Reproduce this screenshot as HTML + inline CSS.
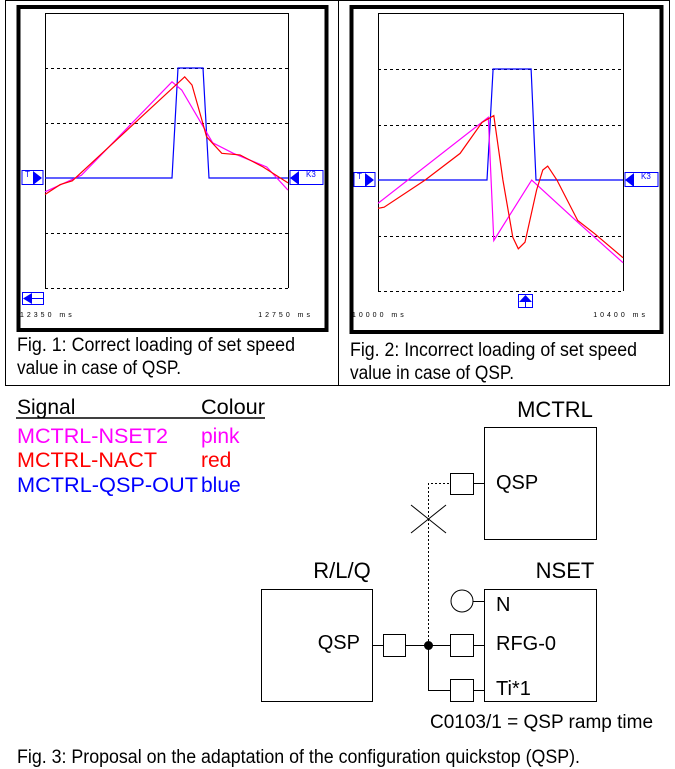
<!DOCTYPE html>
<html><head><meta charset="utf-8"><style>
html,body{margin:0;padding:0;background:#fff;}
svg{display:block;font-family:"Liberation Sans",Arial,sans-serif;}
</style></head><body>
<svg id="s" width="675" height="769" viewBox="0 0 675 769" xmlns="http://www.w3.org/2000/svg">
<g fill="none" stroke="#000" stroke-width="1">
<line x1="5" y1="0.5" x2="670" y2="0.5"/>
<line x1="5.5" y1="0" x2="5.5" y2="385"/>
<line x1="338.5" y1="0" x2="338.5" y2="385"/>
<line x1="669.5" y1="0" x2="669.5" y2="385"/>
<line x1="5" y1="385.5" x2="670" y2="385.5"/>
</g>
<g id="f1"></g>
<g id="f2"></g>
<g font-size="19" fill="#000">
<text x="17" y="351" textLength="278" lengthAdjust="spacingAndGlyphs">Fig. 1: Correct loading of set speed</text>
<text x="17" y="374" textLength="164" lengthAdjust="spacingAndGlyphs">value in case of QSP.</text>
<text x="350" y="356" textLength="287" lengthAdjust="spacingAndGlyphs">Fig. 2: Incorrect loading of set speed</text>
<text x="350" y="379" textLength="164" lengthAdjust="spacingAndGlyphs">value in case of QSP.</text>
</g>
<g font-size="21">
<text x="17" y="414" fill="#000">Signal</text>
<text x="201" y="414" fill="#000" textLength="64" lengthAdjust="spacingAndGlyphs">Colour</text>
<line x1="16" y1="418" x2="265" y2="418" stroke="#000" stroke-width="1.5"/>
<text x="17" y="443" fill="#ff00ff" textLength="151" lengthAdjust="spacingAndGlyphs">MCTRL-NSET2</text>
<text x="201" y="443" fill="#ff00ff">pink</text>
<text x="17" y="467" fill="#ff0000" textLength="140" lengthAdjust="spacingAndGlyphs">MCTRL-NACT</text>
<text x="201" y="467" fill="#ff0000">red</text>
<text x="17" y="492" fill="#0000ff" textLength="181" lengthAdjust="spacingAndGlyphs">MCTRL-QSP-OUT</text>
<text x="201" y="492" fill="#0000ff">blue</text>
</g>
<g fill="none" stroke="#000" stroke-width="1">
<rect x="484.5" y="427.5" width="112" height="112"/>
<rect x="261.5" y="589.5" width="111" height="112"/>
<rect x="484.5" y="589.5" width="112" height="112"/>
<rect x="450.5" y="473.5" width="23" height="21"/>
<rect x="383.5" y="634.5" width="22" height="22"/>
<rect x="450.5" y="634.5" width="23" height="22"/>
<rect x="450.5" y="679.5" width="23" height="22"/>
<circle cx="462" cy="601" r="11"/>
<line x1="473" y1="483.5" x2="484" y2="483.5"/>
<line x1="372" y1="645.5" x2="383" y2="645.5"/>
<line x1="406" y1="645.5" x2="450" y2="645.5"/>
<line x1="473" y1="645.5" x2="484" y2="645.5"/>
<line x1="473" y1="690.5" x2="484" y2="690.5"/>
<line x1="473" y1="601.5" x2="484" y2="601.5"/>
<polyline points="428.5,645 428.5,690.5 450,690.5"/>
<polyline points="428.5,645 428.5,483.5 450,483.5" stroke-dasharray="2,2"/>
<line x1="411" y1="505" x2="446" y2="533"/>
<line x1="446" y1="505" x2="411" y2="533"/>
<circle cx="428.5" cy="645.5" r="4" fill="#000"/>
</g>
<g font-size="20" fill="#000">
<text x="555" y="417" text-anchor="middle" font-size="22">MCTRL</text>
<text x="342" y="578" text-anchor="middle" font-size="22">R/L/Q</text>
<text x="565" y="578" text-anchor="middle" font-size="22">NSET</text>
<text x="496" y="489">QSP</text>
<text x="360" y="649" text-anchor="end">QSP</text>
<text x="496" y="611">N</text>
<text x="496" y="650">RFG-0</text>
<text x="496" y="695">Ti*1</text>
<text x="430" y="728" font-size="19">C0103/1 = QSP ramp time</text>
<text x="17" y="763" font-size="19" textLength="563" lengthAdjust="spacingAndGlyphs">Fig. 3: Proposal on the adaptation of the configuration quickstop (QSP).</text>
</g>
</svg>
<script>
// Fig 1 data (t in ms from start, value in grid units)
const f1PinkT=[0,60,209,225,276,310,365,400];
const f1PinkV=[-0.25,0.05,1.75,1.6,0.64,0.45,0.2,-0.22];
const f1RedT=[0,25,45,230,242,266,291,321,359,400];
const f1RedV=[-0.3,-0.12,-0.05,1.84,1.69,0.75,0.45,0.42,0.2,-0.09];
const f1BlueT=[0,209,219,260,270,400];
const f1BlueV=[0,0,2,2,0,0];
const f1Labels=["12350 ms","12750 ms"];
// Fig 2 data
const f2PinkT=[0,180,189,251,326,400];
const f2PinkV=[-0.42,1.13,-1.09,0,-0.76,-1.49];
const f2RedT=[0,10,77,134,170,189,204,220,229,240,259,269,277,292,326,354,400];
const f2RedV=[-0.51,-0.49,0,0.48,1.04,1.16,0,-1.03,-1.24,-1.12,-0.18,0.18,0.25,0,-0.73,-0.97,-1.4];
const f2BlueT=[0,178,188,250,258,400];
const f2BlueV=[0,0,2,2,0,0];
const f2Labels=["10000 ms","10400 ms"];
const gridVals=[2,1,-1,-2];

const NS="http://www.w3.org/2000/svg";
function mk(p,tag,a){const e=document.createElementNS(NS,tag);for(const k in a)e.setAttribute(k,a[k]);p.appendChild(e);return e;}

function chart(g,o,pinkT,pinkV,redT,redV,blueT,blueV,labels,fig){
  const xs=t=>o.x0+t/400*(o.x1-o.x0);
  const ys=v=>o.yb-v*o.step;
  let e=mk(g,'rect',{x:o.bx,y:o.by,width:o.bw,height:o.bh,fill:'none',stroke:'#000','stroke-width':4});
  
  
  e=mk(g,'polyline',{points:`${o.x0+0.5},${ys(-2)} ${o.x0+0.5},${o.y0+0.5} ${o.x1+0.5},${o.y0+0.5} ${o.x1+0.5},${ys(-2)}`,fill:'none',stroke:'#000'});
  
  
  gridVals.forEach(v=>{
    const l=mk(g,'line',{x1:o.x0,x2:o.x1,y1:Math.round(ys(v))+0.5,y2:Math.round(ys(v))+0.5,stroke:'#000','stroke-dasharray':'3,3'});
    
    
  });
  const line=(T,V,c,n)=>{const p=mk(g,'polyline',{points:T.map((t,i)=>xs(t).toFixed(1)+','+ys(V[i]).toFixed(1)).join(' '),fill:'none',stroke:c,'stroke-width':1.2});
    
    };
  line(blueT,blueV,'#0000ff','series-qsp-out');
  line(pinkT,pinkV,'#ff00ff','series-nset2');
  line(redT,redV,'#ff0000','series-nact');
  const yb=o.yb;
  let m=mk(g,'g',{});
  
  
  mk(m,'rect',{x:o.lm,y:yb-7.5,width:21,height:14,fill:'#fff',stroke:'#0000ff'});
  mk(m,'polygon',{points:`${o.lm+11},${yb-7} ${o.lm+20},${yb} ${o.lm+11},${yb+7}`,fill:'#0000ff'});
  mk(m,'text',{x:o.lm+3,y:yb-1,'font-size':8,fill:'#0000ff'}).textContent='T';
  m=mk(g,'g',{});
  
  
  mk(m,'rect',{x:o.x1+2,y:yb-7.5,width:33,height:14,fill:'#fff',stroke:'#0000ff'});
  mk(m,'polygon',{points:`${o.x1+2},${yb} ${o.x1+11},${yb-7} ${o.x1+11},${yb+7}`,fill:'#0000ff'});
  mk(m,'text',{x:o.x1+18,y:yb-1,'font-size':8,fill:'#0000ff'}).textContent='K3';
  m=mk(g,'g',{});
  
  
  if(fig===1){
    mk(m,'rect',{x:22.5,y:292.5,width:21,height:12,fill:'#fff',stroke:'#0000ff'});
    mk(m,'polygon',{points:`23,298.5 32,293 32,304`,fill:'#0000ff'});
    mk(m,'line',{x1:32,x2:43,y1:298.5,y2:298.5,stroke:'#0000ff'});
  } else {
    mk(m,'rect',{x:518.5,y:294.5,width:14,height:13,fill:'#fff',stroke:'#0000ff'});
    mk(m,'polygon',{points:`525.5,295 519,302 532,302`,fill:'#0000ff'});
    mk(m,'line',{x1:525.5,x2:525.5,y1:302,y2:307,stroke:'#0000ff'});
  }
  let t=mk(g,'text',{x:o.lm-2,y:317,'font-size':7,'letter-spacing':'3',fill:'#000'});t.textContent=labels[0];
  
  
  t=mk(g,'text',{x:o.x1+25,y:317,'font-size':7,'letter-spacing':'3','text-anchor':'end',fill:'#000'});t.textContent=labels[1];
  
  
}
chart(document.getElementById('f1'),{bx:18.5,by:7,bw:308,bh:323,x0:45,x1:288,y0:13,yb:178,step:55,lm:22},f1PinkT,f1PinkV,f1RedT,f1RedV,f1BlueT,f1BlueV,f1Labels,1);
chart(document.getElementById('f2'),{bx:351.5,by:7,bw:310,bh:325,x0:378,x1:623,y0:13,yb:180,step:55.5,lm:354},f2PinkT,f2PinkV,f2RedT,f2RedV,f2BlueT,f2BlueV,f2Labels,2);
</script>
</body></html>
